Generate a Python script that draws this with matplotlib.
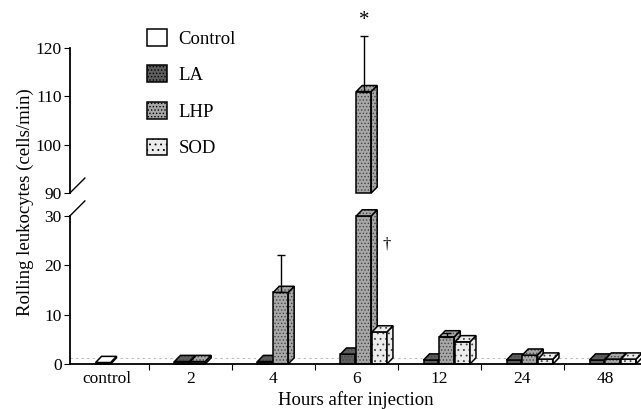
import numpy as np
import matplotlib
matplotlib.use('Agg')
import matplotlib.pyplot as plt
from matplotlib.patches import Polygon, Patch

nan = np.nan

hours = ['control', '2', '4', '6', '12', '24', '48']
series = ['Control', 'LA', 'LHP', 'SOD']
control_vals = [0.3, nan, nan, nan, nan, nan, nan]
la_vals = [nan, 0.5, 0.5, 2.0, 0.8, 0.8, 0.8]
lhp_vals = [nan, 0.5, 14.5, 111.0, 5.5, 1.8, 1.0]
lhp_err = [0, 0, 7.5, 11.5, 0.8, 0, 0]
sod_vals = [nan, nan, nan, 6.5, 4.5, 1.0, 1.0]

plt.rcParams['font.family'] = ['Liberation Serif', 'DejaVu Serif']
plt.rcParams['hatch.linewidth'] = 0.6

# look of each series: face colour, texture
styles = {
    'Control': ('white', None),
    'LA': ('#5e5e5e', '.....'),
    'LHP': ('#a8a8a8', '.....'),
    'SOD': ('#ececec', '...'),
}
offsets = {'Control': -0.05, 'LA': -0.10, 'LHP': 0.09, 'SOD': 0.28}
w = 0.18
dx, dy = 0.072, 1.25   # depth of the 3D boxes


def box(ax, xc, y0, y1, name):
    face, hatch = styles[name]
    x0, x1 = xc - w / 2, xc + w / 2
    faces = [
        [(x0, y0), (x1, y0), (x1, y1), (x0, y1)],
        [(x1, y0), (x1 + dx, y0 + dy), (x1 + dx, y1 + dy), (x1, y1)],
        [(x0, y1), (x1, y1), (x1 + dx, y1 + dy), (x0 + dx, y1 + dy)],
    ]
    for pts in faces:
        ax.add_patch(Polygon(pts, closed=True, facecolor=face, edgecolor='#444',
                             lw=0, hatch=hatch, clip_on=False))
        ax.add_patch(Polygon(pts, closed=True, fill=False, edgecolor='black',
                             lw=1.1, clip_on=False))


fig = plt.figure(figsize=(6.41, 4.09), dpi=100)
ax_lo = fig.add_axes([0.109, 0.110, 0.891, 0.362])
ax_hi = fig.add_axes([0.109, 0.528, 0.891, 0.3545])
for ax in (ax_lo, ax_hi):
    ax.set_xlim(-0.45, 6.43)
    ax.patch.set_alpha(0)
    for s in ('top', 'right'):
        ax.spines[s].set_visible(False)
    ax.spines['left'].set_linewidth(1.3)
    ax.tick_params(axis='y', length=4, width=0.8, labelsize=12.5, pad=2)

ax_lo.set_ylim(0, 30)
ax_lo.set_yticks([0, 10, 20, 30])
ax_hi.set_ylim(90, 120)
ax_hi.set_yticks([90, 100, 110, 120])
ax_hi.spines['bottom'].set_visible(False)
ax_hi.set_xticks([])

ax_lo.spines['bottom'].set_linewidth(1.3)
ax_lo.set_xticks(range(len(hours)))
ax_lo.set_xticklabels(hours, fontsize=12.5)
ax_lo.set_xticks(np.arange(len(hours) - 1) + 0.5, minor=True)
ax_lo.tick_params(axis='x', which='major', length=0, pad=5)
ax_lo.tick_params(axis='x', which='minor', length=4, width=0.8)
ax_lo.set_xlabel('Hours after injection', fontsize=13.5, labelpad=3)

# back floor line
ax_lo.axhline(dy, color='#bbbbbb', lw=0.8, ls=(0, (2, 3)), zorder=0)

data = {'Control': control_vals, 'LA': la_vals, 'LHP': lhp_vals, 'SOD': sod_vals}
for i in range(len(hours)):
    for name in series:
        v = data[name][i]
        if np.isnan(v):
            continue
        xc = i + offsets[name]
        box(ax_lo, xc, 0, min(v, 30), name)
        if v > 90:
            box(ax_hi, xc, 90, v, name)

# error bars on LHP
for i, (v, e) in enumerate(zip(lhp_vals, lhp_err)):
    if e <= 0:
        continue
    xc = i + offsets['LHP']
    ax = ax_hi if v > 90 else ax_lo
    ax.errorbar(xc, v, yerr=[[0], [e]], color='black', lw=1, capsize=3,
                capthick=1, clip_on=False)

ax_hi.text(3 + offsets['LHP'], lhp_vals[3] + lhp_err[3] + 1.2, '*',
           ha='center', va='bottom', fontsize=15, clip_on=False)
ax_lo.text(3.36, 22.5, '\u2020', ha='center', va='bottom', fontsize=12)

# axis break marks
ax_hi.plot([0, 15 / 571], [0, 15 / 145], color='black', lw=1,
           transform=ax_hi.transAxes, clip_on=False)
ax_lo.plot([0, 15 / 571], [1, 1 + 15 / 148], color='black', lw=1,
           transform=ax_lo.transAxes, clip_on=False)

fig.text(0.040, 0.505, 'Rolling leukocytes (cells/min)', rotation=90,
         ha='center', va='center', fontsize=13.5)

handles = [Patch(facecolor=styles[n][0], hatch=styles[n][1], edgecolor='black',
                 lw=1.1) for n in series]
fig.legend(handles, series, loc='upper left', bbox_to_anchor=(0.218, 0.948),
           frameon=False, fontsize=13.5, handlelength=1.05, handleheight=1.0,
           labelspacing=0.95, handletextpad=0.62, borderaxespad=0)

fig.savefig('out.png', dpi=100)
